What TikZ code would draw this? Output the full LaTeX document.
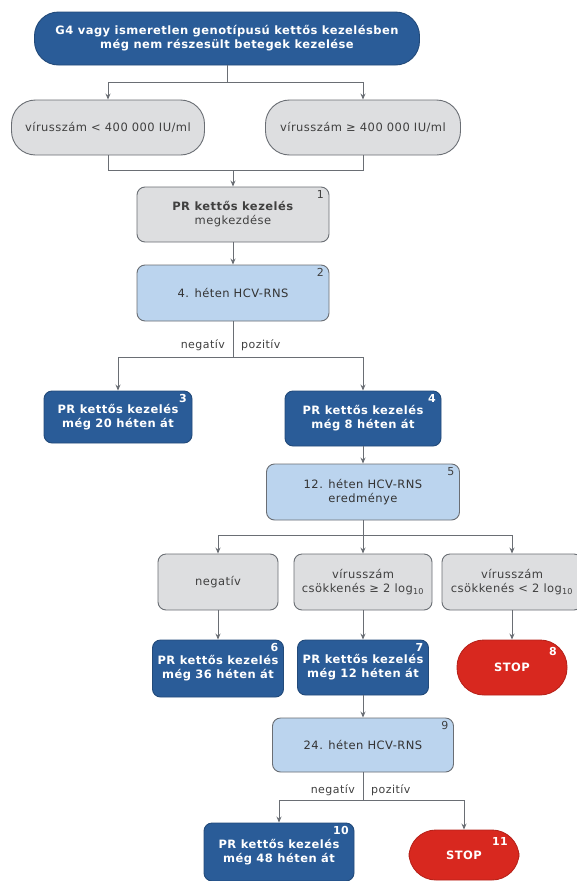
\documentclass[tikz,border=0pt]{standalone}
\usepackage{fontspec}
\setmainfont{DejaVu Sans}[LetterSpace=4]
\usetikzlibrary{arrows.meta}
\definecolor{dblue}{HTML}{2A5C98}
\definecolor{lblue}{HTML}{BBD4EE}
\definecolor{lgrey}{HTML}{DDDEE0}
\definecolor{sred}{HTML}{D8281F}
\definecolor{edge}{HTML}{6A6E74}
\tikzset{
  box/.style={rounded corners=8pt, align=center, inner sep=1pt, line width=0.9pt},
  darkbox/.style={box, fill=dblue, draw=dblue!80!black, text=white, font=\fontsize{11.5}{14}\selectfont\bfseries},
  lightbox/.style={box, fill=lblue, draw=edge, text=black!80, font=\fontsize{11.5}{14}\selectfont},
  greybox/.style={box, fill=lgrey, draw=edge, text=black!75, font=\fontsize{11.5}{14}\selectfont},
  greypill/.style={greybox, rounded corners=24pt},
  stopbox/.style={box, rounded corners=27pt, fill=sred, draw=sred!85!black, text=white, font=\fontsize{11.5}{13}\selectfont\bfseries},
  topbox/.style={darkbox, rounded corners=24pt},
  numw/.style={anchor=north east, inner sep=1.5pt, text=white, font=\fontsize{11}{12}\selectfont\bfseries},
  numd/.style={anchor=north east, inner sep=1.5pt, text=black!75, font=\fontsize{11}{12}\selectfont},
  arr/.style={draw=edge, line width=1pt, -{Stealth[length=6pt,width=5pt]}},
  ln/.style={draw=edge, line width=1pt},
  lab/.style={font=\fontsize{11}{12}\selectfont, text=black!75, inner sep=2pt}
}
\begin{document}
\begin{tikzpicture}[x=1pt,y=-1pt]
\useasboundingbox[fill=white] (0,0) rectangle (577,881);
\clip (0,0) rectangle (577,881);
% nodes
\node[topbox, minimum width=385pt, minimum height=53pt] (top) at (227,38.5) {G4 vagy ismeretlen genotípusú kettős kezelésben\\még nem részesült betegek kezelése};
\node[greypill, minimum width=193pt, minimum height=55pt] (v1) at (108,127.5) {vírusszám < 400 000 IU/ml};
\node[greypill, minimum width=195pt, minimum height=55pt] (v2) at (363,127.5) {vírusszám ≥ 400 000 IU/ml};
\node[greybox, minimum width=192pt, minimum height=55pt] (n1) at (233,214.5) {\textbf{PR kettős kezelés}\\megkezdése};
\node[lightbox, minimum width=192pt, minimum height=56pt] (n2) at (233,293) {4. héten HCV-RNS};
\node[darkbox, minimum width=148pt, minimum height=52pt] (n3) at (118,417) {PR kettős kezelés\\még 20 héten át};
\node[darkbox, minimum width=156pt, minimum height=55pt] (n4) at (363,418.5) {PR kettős kezelés\\még 8 héten át};
\node[lightbox, minimum width=193pt, minimum height=56pt] (n5) at (363,492) {12. héten HCV-RNS\\eredménye};
\node[greybox, minimum width=120pt, minimum height=56pt] (g1) at (218,582) {negatív};
\node[greybox, minimum width=138pt, minimum height=56pt] (g2) at (363,582) {vírusszám\\csökkenés ≥ 2 log\textsubscript{10}};
\node[greybox, minimum width=140pt, minimum height=56pt] (g3) at (512,582) {vírusszám\\csökkenés < 2 log\textsubscript{10}};
\node[darkbox, minimum width=131pt, minimum height=57pt] (n6) at (218,668.5) {PR kettős kezelés\\még 36 héten át};
\node[darkbox, minimum width=131pt, minimum height=55pt] (n7) at (363,667.5) {PR kettős kezelés\\még 12 héten át};
\node[stopbox, minimum width=110pt, minimum height=55pt] (n8) at (512,667.5) {STOP};
\node[lightbox, minimum width=181pt, minimum height=54pt] (n9) at (363,745) {24. héten HCV-RNS};
\node[darkbox, minimum width=150pt, minimum height=58pt] (n10) at (279,852) {PR kettős kezelés\\még 48 héten át};
\node[stopbox, minimum width=110pt, minimum height=50pt] (n11) at (464,855) {STOP};
% numbers
\node[numd] at ([xshift=-4pt,yshift=-2pt]n1.north east) {1};
\node[numd] at ([xshift=-4pt,yshift=-2pt]n2.north east) {2};
\node[numw] at ([xshift=-4pt,yshift=-2pt]n3.north east) {3};
\node[numw] at ([xshift=-4pt,yshift=-2pt]n4.north east) {4};
\node[numd] at ([xshift=-4pt,yshift=-2pt]n5.north east) {5};
\node[numw] at ([xshift=-4pt,yshift=-2pt]n6.north east) {6};
\node[numw] at ([xshift=-4pt,yshift=-2pt]n7.north east) {7};
\node[numw] at ([xshift=-9pt,yshift=-6pt]n8.north east) {8};
\node[numw] at ([xshift=-4pt,yshift=-2pt]n10.north east) {10};
\node[numw] at ([xshift=-10pt,yshift=-6pt]n11.north east) {11};
\node[numd] at ([xshift=-4pt,yshift=-2pt]n9.north east) {9};
% junction coordinates
\coordinate (j1) at (227,82);
\coordinate (j2) at (233,170);
\coordinate (j3) at (233,357);
\coordinate (j5) at (363,535);
\coordinate (j9) at (363,800);
% connectors
\draw[ln] (top.south) -- (j1);
\draw[arr] (j1) -| (v1.north);
\draw[arr] (j1) -| (v2.north);
\draw[ln] (v1.south) |- (j2);
\draw[ln] (v2.south) |- (j2);
\draw[arr] (j2) -- (n1.north);
\draw[arr] (n1) -- (n2);
\draw[ln] (n2.south) -- (j3);
\draw[arr] (j3) -| (n3.north);
\draw[arr] (j3) -| (n4.north);
\node[lab, anchor=east, xshift=-6pt] at (j3 |- 0,345) {negatív};
\node[lab, anchor=west, xshift=6pt] at (j3 |- 0,345) {pozitív};
\draw[arr] (n4) -- (n5);
\draw[ln] (n5.south) -- (j5);
\draw[arr] (j5) -| (g1.north);
\draw[arr] (j5) -- (g2.north);
\draw[arr] (j5) -| (g3.north);
\draw[arr] (g1) -- (n6);
\draw[arr] (g2) -- (n7);
\draw[arr] (g3) -- (n8);
\draw[arr] (n7) -- (n9);
\draw[ln] (n9.south) -- (j9);
\draw[arr] (j9) -| (n10.north);
\draw[arr] (j9) -| (n11.north);
\node[lab, anchor=east, xshift=-6pt] at (j9 |- 0,790) {negatív};
\node[lab, anchor=west, xshift=6pt] at (j9 |- 0,790) {pozitív};
\end{tikzpicture}
\end{document}
